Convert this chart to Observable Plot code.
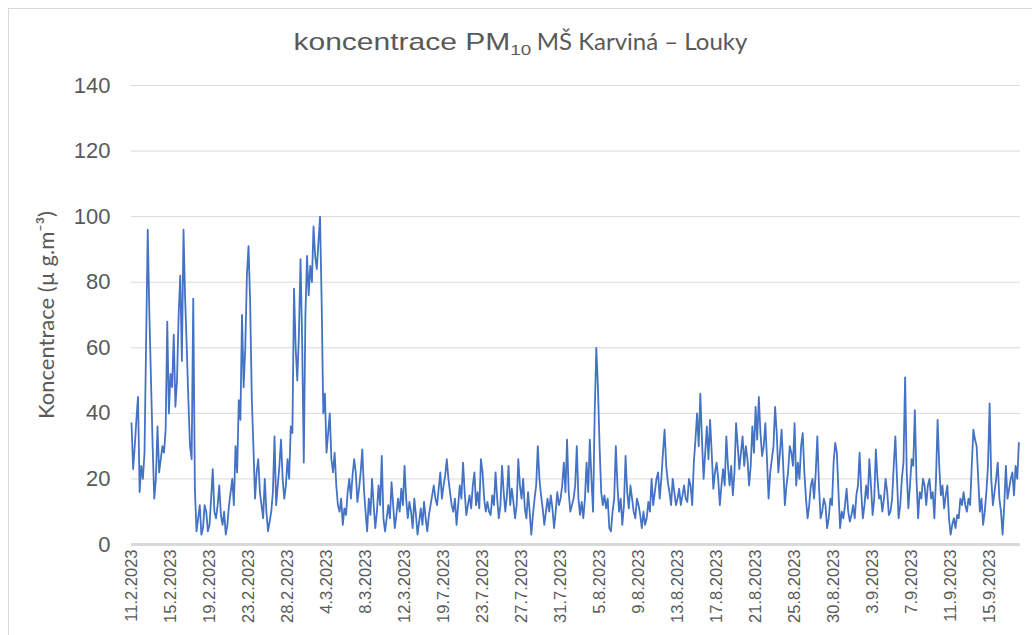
<!DOCTYPE html>
<html>
<head>
<meta charset="utf-8">
<script src="https://cdn.jsdelivr.net/npm/d3@7"></script>
<script src="https://cdn.jsdelivr.net/npm/@observablehq/plot@0.6"></script>
<style>
  html, body { margin: 0; padding: 0; background: #fff; }
  #wrap { position: relative; width: 1032px; height: 635px; overflow: hidden; background: #fff; }
  #frame { position: absolute; left: 8px; top: 8px; width: 1100px; height: 700px; border: 1px solid #d9d9d9; box-sizing: border-box; }
  #title { position: absolute; left: 22px; top: 26px; width: 1044px; text-align: center; color: #595959; white-space: nowrap; }
  #title .a { display: inline-block; font-family: "Liberation Sans", Arial, sans-serif; font-size: 24px; transform: scaleX(1.25); transform-origin: right center; }
  #title .a sub { font-size: 15px; vertical-align: -5px; }
  #title .b { font-family: Lato, "Open Sans", sans-serif; font-size: 24px; margin-left: 6px; }
  #chart { position: absolute; left: 0; top: 60px; }
</style>
</head>
<body>
<div id="wrap">
  <div id="frame"></div>
  <div id="title"><span class="a">koncentrace PM<sub>10</sub></span><span class="b">MŠ Karviná – Louky</span></div>
  <div id="chart"></div>
</div>
<script>
// Tick labels on the categorical (sample index) x axis, one every 24 samples (4 days)
const tickLabels = ["11.2.2023","15.2.2023","19.2.2023","23.2.2023","28.2.2023","4.3.2023","8.3.2023","12.3.2023","19.7.2023","23.7.2023","27.7.2023","31.7.2023","5.8.2023","9.8.2023","13.8.2023","17.8.2023","21.8.2023","25.8.2023","30.8.2023","3.9.2023","7.9.2023","11.9.2023","15.9.2023"];
const samplesPerTick = 24;
const yTicks = [0, 20, 40, 60, 80, 100, 120, 140];
// PM10 concentration (µg/m3), one value per ~4 hours
const pm10 = [
  37,23, 30,38, 45,16, 24,20, 28,62,
  96,70, 50,30, 14,20, 36,22, 26,30,
  28,35, 68,40, 52,48, 64,42, 50,70,
  82,56, 96,75, 60,44, 30,26, 75,17,
  4,8, 12,3, 5,12, 10,4, 6,14,
  23,10, 8,12, 18,9, 6,10, 3,6,
  12,16, 20,12, 30,22, 44,38, 70,48,
  60,82, 91,74, 45,30, 14,22, 26,16,
  12,8, 20,10, 4,7, 10,16, 33,12,
  18,24, 32,20, 14,18, 26,20, 36,34,
  78,60, 50,64, 87,62, 25,70, 88,76,
  85,80, 97,88, 84,92, 100,74, 40,46,
  28,34, 40,26, 22,28, 18,12, 10,14,
  6,11, 9,16, 20,14, 21,26, 22,13,
  17,22, 29,17, 10,4, 14,9, 20,12,
  5,10, 18,12, 27,8, 4,8, 12,8,
  19,12, 5,9, 14,10, 17,12, 24,14,
  8,13, 10,5, 14,9, 3,7, 11,6,
  13,8, 4,9, 12,15, 18,14, 12,17,
  22,14, 18,21, 26,20, 16,12, 10,14,
  6,12, 18,14, 25,16, 9,12, 15,11,
  18,22, 12,16, 11,26, 22,14, 10,13,
  10,9, 15,12, 22,14, 8,12, 24,16,
  10,15, 24,12, 17,13, 8,12, 26,18,
  14,20, 11,8, 16,10, 3,9, 14,18,
  30,20, 15,11, 6,10, 14,10, 15,11,
  5,10, 16,12, 14,18, 25,16, 32,16,
  10,12, 14,18, 30,14, 9,13, 8,14,
  25,16, 32,20, 10,40, 60,48, 30,16,
  12,15, 11,14, 5,4, 10,14, 30,18,
  10,14, 6,12, 27,16, 11,18, 14,10,
  8,14, 12,9, 5,10, 6,8, 13,10,
  20,12, 16,20, 22,14, 20,28, 35,24,
  19,16, 12,20, 16,12, 14,17, 12,15,
  18,14, 13,20, 18,12, 25,32, 40,30,
  46,32, 20,28, 36,26, 38,28, 17,22,
  25,20, 12,18, 23,18, 33,24, 18,24,
  15,22, 37,30, 23,28, 33,24, 30,26,
  18,24, 36,28, 42,32, 45,34, 27,30,
  37,26, 14,22, 26,30, 42,34, 22,28,
  35,24, 12,18, 22,30, 28,24, 37,18,
  25,20, 30,34, 22,14, 8,12, 18,20,
  14,22, 33,18, 8,10, 14,12, 5,8,
  14,12, 25,31, 28,16, 5,10, 8,12,
  17,10, 7,9, 12,8, 15,18, 28,16,
  8,12, 18,14, 26,18, 9,14, 29,20,
  14,15, 10,14, 20,16, 9,10, 14,24,
  33,20, 8,12, 20,25, 51,22, 11,18,
  26,24, 41,20, 8,16, 14,20, 18,12,
  18,20, 14,16, 8,20, 38,24, 15,18,
  11,15, 18,8, 3,6, 8,5, 9,8,
  14,12, 16,12, 10,14, 12,24, 35,32,
  30,20, 10,14, 6,10, 16,24, 43,20,
  12,16, 20,25, 14,10, 3,12, 24,14,
  17,20, 22,15, 24,20, 31
];
const yLabel = "Koncentrace (µ g.m⁻³)";

const data = pm10.map((v, i) => ({i, v}));
const tickIdx = tickLabels.map((_, k) => k * samplesPerTick);

const chart = Plot.plot({
  width: 1032,
  height: 575,
  marginLeft: 131,
  marginRight: 12,
  marginTop: 25,
  marginBottom: 91,
  style: {fontFamily: "'Liberation Sans', Arial, sans-serif", color: "#595959", background: "transparent"},
  x: {domain: [0, pm10.length]},
  y: {domain: [0, 140]},
  marks: [
    Plot.ruleY(yTicks.filter(d => d > 0), {stroke: "#d9d9d9", strokeWidth: 1}),
    Plot.ruleY([0], {stroke: "#d9d9d9", strokeWidth: 3}),
    Plot.line(data, {x: "i", y: "v", stroke: "#4472C4", strokeWidth: 1.8, strokeLinejoin: "round"}),
    Plot.axisY({ticks: yTicks, tickSize: 0, tickPadding: 21, fontSize: 22, label: null, fill: "#595959"}),
    Plot.axisX({ticks: tickIdx, tickFormat: d => tickLabels[Math.round(d / samplesPerTick)], tickRotate: -90, tickSize: 0, tickPadding: 5, fontSize: 16.5, label: null, fill: "#595959"}),
    Plot.text([yLabel], {text: d => d, frameAnchor: "left", dx: -85, rotate: -90, textAnchor: "middle", fontSize: 22, fill: "#595959", fontFamily: "Lato, 'Open Sans', sans-serif"})
  ]
});
document.getElementById("chart").appendChild(chart);
</script>
</body>
</html>
